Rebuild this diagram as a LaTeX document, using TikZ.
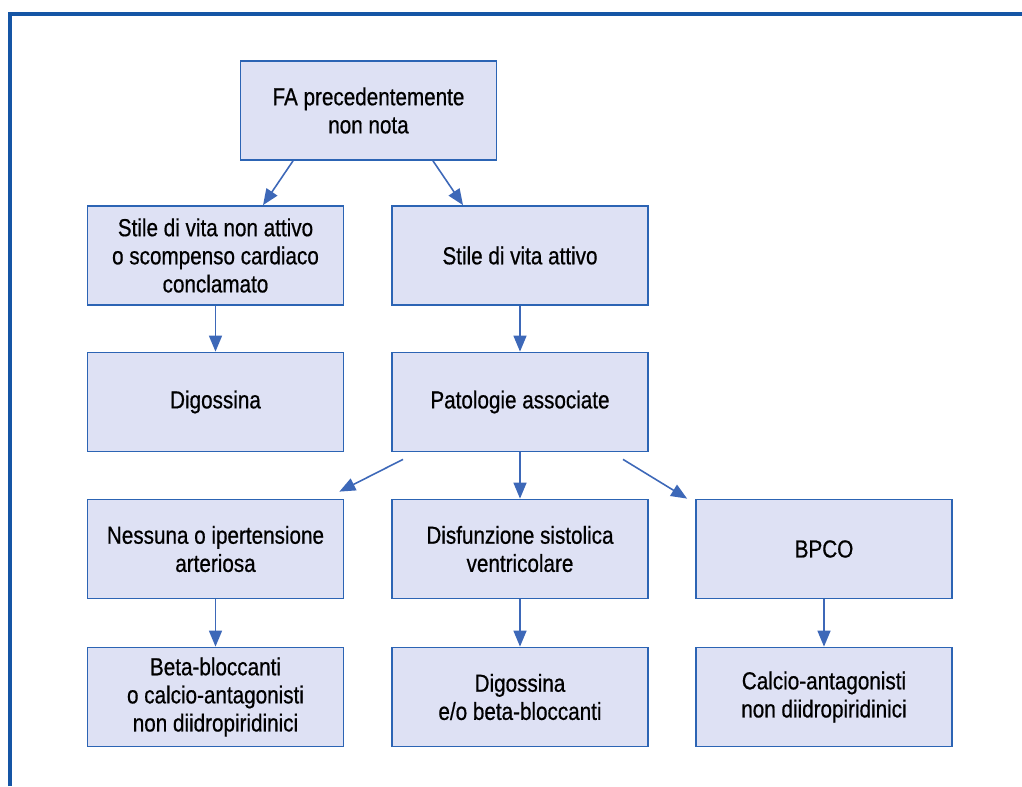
\documentclass[tikz,border=0pt]{standalone}
\usepackage{fontspec}
\setmainfont{Liberation Sans}[FakeStretch=0.84,FakeBold=0.6]
\usetikzlibrary{arrows.meta}
\definecolor{cadre}{HTML}{1555A5}
\definecolor{bord}{HTML}{2C64B4}
\definecolor{fond}{HTML}{DEE1F4}
\definecolor{fleche}{HTML}{3D68B8}
\begin{document}
\begin{tikzpicture}[
    boite/.style={draw=bord, fill=fond, line width=1pt,
                  minimum width=5.12cm, minimum height=1.98cm,
                  align=center, font=\fontsize{14}{16}\selectfont},
    fl/.style={draw=fleche, line width=0.9pt,
               -{Triangle[length=0.32cm,width=0.26cm]}}]
\useasboundingbox (0,0) rectangle (20.44,15.72);

% Cadre
\draw [cadre, line width=2.2pt] (0.2,0) -- (0.2,15.44) -- (20.44,15.44);

% Boites
\node [boite] (fa)       at (7.37,13.51) {FA precedentemente\\non nota};
\node [boite] (nonatt)   at (4.31,10.61) {Stile di vita non attivo\\o scompenso cardiaco\\conclamato};
\node [boite] (attivo)   at (10.40,10.61) {Stile di vita attivo};
\node [boite] (digo)     at (4.31,7.68) {Digossina};
\node [boite] (patol)    at (10.40,7.68) {Patologie associate};
\node [boite] (nessuna)  at (4.31,4.74) {Nessuna o ipertensione\\arteriosa};
\node [boite] (disf)     at (10.40,4.74) {Disfunzione sistolica\\ventricolare};
\node [boite] (bpco)     at (16.48,4.74) {BPCO};
\node [boite] (beta)     at (4.31,1.78) {Beta-bloccanti\\o calcio-antagonisti\\non diidropiridinici};
\node [boite] (digobeta) at (10.40,1.78) {Digossina\\e/o beta-bloccanti};
\node [boite] (calcio)   at (16.48,1.78) {Calcio-antagonisti\\non diidropiridinici};

% Fleches obliques
\draw [fl] ([xshift=-1.51cm]fa.south) -- ([xshift=0.95cm]nonatt.north);
\draw [fl] ([xshift=1.29cm]fa.south) -- ([xshift=-1.14cm]attivo.north);
\draw [fl] ([xshift=-2.34cm,yshift=-0.14cm]patol.south) -- ([xshift=-0.1cm,yshift=0.14cm]nessuna.north east);
\draw [fl] ([xshift=2.06cm,yshift=-0.14cm]patol.south) -- ([xshift=-0.16cm]bpco.north west);

% Fleches verticales
\foreach \a/\b in {nonatt/digo, attivo/patol, patol/disf,
                   nessuna/beta, disf/digobeta, bpco/calcio}
\draw [fl] (\a) -- (\b);

\end{tikzpicture}
\end{document}
